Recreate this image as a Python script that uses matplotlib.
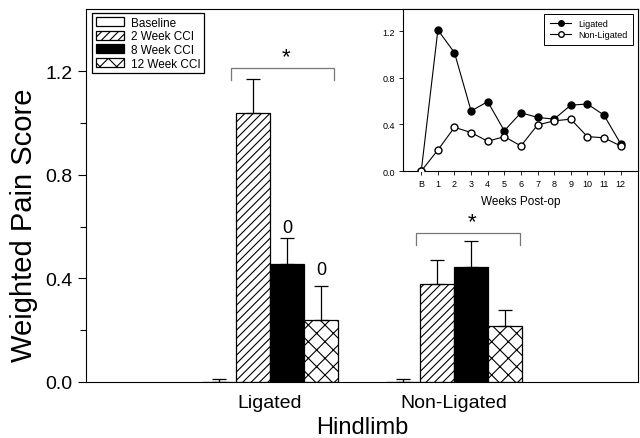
import numpy as np
import matplotlib
matplotlib.use('Agg')
import matplotlib.pyplot as plt

plt.rcParams['font.family'] = ['Liberation Sans', 'DejaVu Sans']
plt.rcParams['hatch.linewidth'] = 0.8

# main bar chart data
groups = ['Ligated', 'Non-Ligated']
series = ['Baseline', '2 Week CCI', '8 Week CCI', '12 Week CCI']
means = {
    'Baseline': [0.0, 0.0],
    '2 Week CCI': [1.04, 0.38],
    '8 Week CCI': [0.455, 0.445],
    '12 Week CCI': [0.24, 0.215],
}
errs = {
    'Baseline': [0.01, 0.01],
    '2 Week CCI': [0.13, 0.09],
    '8 Week CCI': [0.10, 0.10],
    '12 Week CCI': [0.13, 0.063],
}
fills = {'Baseline': 'white', '2 Week CCI': 'white', '8 Week CCI': 'black', '12 Week CCI': 'white'}
hatches = {'Baseline': None, '2 Week CCI': '////', '8 Week CCI': None, '12 Week CCI': 'xx'}

# inset time course
weeks = ['B', '1', '2', '3', '4', '5', '6', '7', '8', '9', '10', '11', '12']
ligated = [0.0, 1.21, 1.015, 0.515, 0.595, 0.345, 0.50, 0.46, 0.445, 0.565, 0.575, 0.48, 0.235]
non_ligated = [0.0, 0.18, 0.375, 0.33, 0.255, 0.295, 0.215, 0.395, 0.43, 0.445, 0.295, 0.285, 0.215]

fig = plt.figure(figsize=(6.4, 4.39), dpi=100)
ax = fig.add_axes([86/640, 1 - 383/439, 552/640, 373/439])

x = np.arange(1, len(groups) + 1)
w = 0.185
for i, s in enumerate(series):
    pos = x + (i - 1.5) * w
    ax.bar(pos, means[s], w, color=fills[s], edgecolor='black', hatch=hatches[s],
           linewidth=0.9, label=s, zorder=2)
    ax.errorbar(pos, means[s], yerr=[np.zeros(len(groups)), errs[s]], fmt='none',
                ecolor='black', elinewidth=0.9, capsize=5, capthick=0.9, zorder=3)

ax.set_xlim(0, 3)
ax.set_ylim(0, 1.44)
ax.set_xticks(x)
ax.set_xticklabels(groups, fontsize=14)
ax.tick_params(axis='x', length=0, pad=9)
ax.set_yticks([0, 0.4, 0.8, 1.2])
ax.set_yticklabels(['0.0', '0.4', '0.8', '1.2'], fontsize=14)
ax.set_yticks([0.2, 0.6, 1.0], minor=True)
ax.tick_params(axis='y', which='major', length=6, width=0.8, direction='out')
ax.tick_params(axis='y', which='minor', length=4, width=0.8, direction='out')
ax.set_xlabel('Hindlimb', fontsize=17, labelpad=3)
ax.set_ylabel('Weighted Pain Score', fontsize=21)
ax.yaxis.set_label_coords(-0.087, 0.424)

# significance brackets
for x0, x1, ytop, ylow in [(0.787, 1.349, 1.211, 1.165), (1.796, 2.357, 0.575, 0.529)]:
    ax.plot([x0, x0, x1, x1], [ylow, ytop, ytop, ylow], color='#777777', lw=0.9)
    ax.text((x0 + x1) / 2 + 0.02, ytop + 0.005, '*', fontsize=16, ha='center', va='bottom')

ax.text(1 + 0.5 * w, 0.598, '0', fontsize=13, ha='center', va='center')
ax.text(1 + 1.5 * w, 0.436, '0', fontsize=13, ha='center', va='center')

leg = ax.legend(loc='upper left', bbox_to_anchor=(92/640, 1 - 14/439),
                bbox_transform=fig.transFigure, borderaxespad=0, fontsize=8.5,
                frameon=True, fancybox=False, edgecolor='black', framealpha=1,
                handlelength=2.4, handleheight=0.8, labelspacing=0.15,
                handletextpad=0.6, borderpad=0.3)
leg.get_frame().set_linewidth(0.9)

# inset
ins = fig.add_axes([403/640, 1 - 172/439, 235/640, 162/439])
xi = np.arange(len(weeks))
ins.plot(xi, ligated, '-o', color='black', mfc='black', mec='black', ms=5, lw=0.8,
         label='Ligated', zorder=3)
ins.plot(xi, non_ligated, '-o', color='black', mfc='white', mec='black', ms=5, lw=0.8,
         label='Non-Ligated', zorder=3)
ins.set_xlim(-1.1, 13.05)
ins.set_ylim(0, 1.39)
ins.set_xticks(xi)
ins.set_xticklabels(weeks, fontsize=6.5)
ins.set_yticks([0, 0.4, 0.8, 1.2])
ins.set_yticklabels(['0.0', '0.4', '0.8', '1.2'], fontsize=6.5)
ins.tick_params(length=3, width=0.6, pad=3)
ins.set_xlabel('Weeks Post-op', fontsize=8.5, labelpad=5)
il = ins.legend(loc='upper right', fontsize=6.5, frameon=True, fancybox=False,
                edgecolor='black', framealpha=1, handlelength=2.4, markerscale=0.8,
                borderaxespad=0.5, labelspacing=0.25, borderpad=0.6)
il.get_frame().set_linewidth(0.7)

fig.savefig('out.png', dpi=100)
